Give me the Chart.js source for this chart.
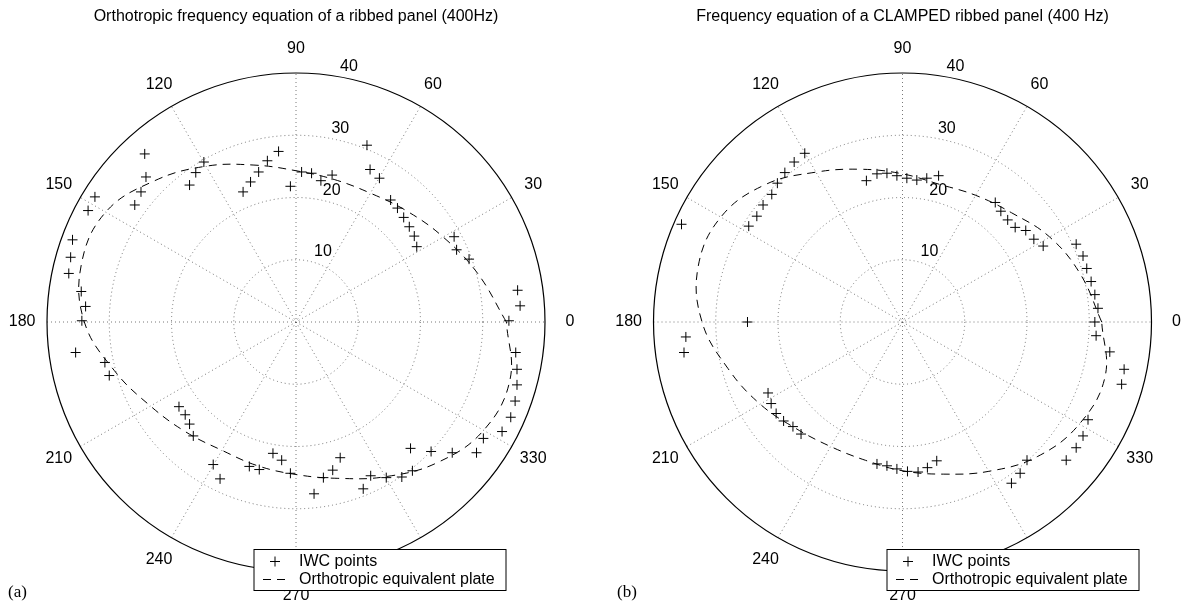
<!DOCTYPE html>
<html>
<head>
<meta charset="utf-8">
<script src="https://cdn.jsdelivr.net/npm/chart.js@4.4.1/dist/chart.umd.min.js"></script>
<style>
  html, body { margin: 0; padding: 0; background: #fff; }
  #wrap { position: relative; width: 1184px; height: 607px; }
  .panel { position: absolute; top: 0; width: 592px; height: 607px; }
</style>
</head>
<body>
<div id="wrap">
  <div class="panel" style="left:0"><canvas id="chartA" width="592" height="607"></canvas></div>
  <div class="panel" style="left:592px"><canvas id="chartB" width="592" height="607"></canvas></div>
</div>
<script>
// polar grid ticks
const angleTicks = [0, 30, 60, 90, 120, 150, 180, 210, 240, 270, 300, 330];
const ringTicks = [10, 20, 30, 40];
const rMax = 40;

// (a) IWC points, horizontal / vertical components (same units as the rings)
const iwcXA = [-24.3, -24.1, -24.9, -25.9, -32.3, -33.4, -35.9, -36.2, -36.5, -34.5, -33.8, -34.4,
  -14.8, -16.1, -17.1, -2.8, -4.6, -6.0, -7.3, -8.5, -0.9, 0.9, 2.5, 4.0, 5.8,
  11.4, 11.9, 13.4, 15.2, 16.3, 17.3, 18.2, 19.0, 19.4, 25.4, 25.8, 27.8, 35.6, 36.0, 34.2,
  -35.4, -30.7, -30.0, -18.8, -17.8, -17.1, -16.5, -13.3, -12.2, -3.7, -2.3, -7.5, -5.9, -0.9,
  35.3, 35.5, 35.5, 35.2, 34.5, 33.1, 30.1, 29.0, 25.1, 21.7, 18.4, 7.1, 5.9, 4.4, 2.9,
  12.0, 14.5, 17.0, 18.7, 10.8];
const iwcYA = [27.0, 23.3, 20.9, 18.8, 20.1, 17.9, 13.2, 10.4, 7.8, 4.9, 2.5, 0.2,
  25.7, 24.0, 22.0, 27.4, 25.9, 24.1, 22.5, 20.9, 21.8, 24.1, 23.9, 22.7, 23.6,
  28.4, 24.5, 23.1, 19.6, 18.3, 16.8, 15.3, 13.8, 12.1, 13.7, 11.6, 10.1, 5.1, 2.6, 0.2,
  -4.9, -6.5, -8.6, -13.6, -14.9, -16.4, -18.3, -22.9, -25.2, -21.1, -22.2, -23.2, -23.7, -24.3,
  -4.9, -7.6, -10.1, -12.7, -15.3, -17.6, -18.7, -21.0, -21.0, -20.8, -20.3, -21.8, -23.8, -25.0, -27.6,
  -24.7, -25.0, -24.9, -23.9, -26.8];

// (b) IWC points
const iwcXB = [-15.7, -17.4, -18.9, -20.1, -21.0, -22.4, -23.4, -24.7, -35.5,
  -5.8, -4.1, -2.5, -0.9, 0.7, 2.3, 3.9, 5.8,
  14.9, 15.8, 16.9, 18.1, 19.8, 21.1, 22.6, 27.9, 29.0, 29.6, 30.3, 30.9, 31.4, 30.9,
  -24.9, -34.8, -35.1, 31.1, 33.3, 35.6, 35.2, 29.8, 29.0, 27.9, 26.3, 20.0, 18.9, 17.5,
  -21.6, -21.1, -20.3, -19.1, -17.6, -16.3, -4.1, -2.5, -0.9, 0.8, 2.5, 4.0, 5.5];
const iwcYB = [27.1, 25.7, 24.0, 22.3, 20.5, 18.8, 17.0, 15.4, 15.7,
  22.7, 23.8, 23.9, 23.5, 23.1, 22.8, 23.1, 23.5,
  19.2, 17.8, 16.4, 15.2, 14.7, 13.3, 12.2, 12.5, 10.6, 8.6, 6.5, 4.4, 2.2, 0.0,
  0.0, -2.4, -4.9, -2.2, -4.8, -7.6, -10.0, -15.7, -18.3, -20.2, -22.2, -22.2, -24.3, -25.9,
  -11.4, -13.1, -14.7, -15.9, -16.8, -18.0, -22.8, -23.1, -23.6, -24.0, -24.1, -23.4, -22.3];

// orthotropic equivalent plate: radius read every 15 degrees
const curveAngles = [0, 15, 30, 45, 60, 75, 90, 105, 120, 135, 150, 165,
  180, 195, 210, 225, 240, 255, 270, 285, 300, 315, 330, 345];
const curveRhoA = [33.8, 30.2, 27.3, 25.2, 23.9, 23.7, 24.3, 26.1, 28.9, 32.1, 35.3, 35.7,
  34.0, 30.2, 27.0, 25.0, 23.8, 23.9, 24.5, 26.0, 28.7, 32.0, 34.8, 35.6];
const curveRhoB = [32.0, 29.6, 27.3, 24.8, 23.5, 22.9, 23.8, 25.4, 27.8, 31.2, 33.7, 34.0,
  32.2, 29.0, 26.4, 24.2, 23.1, 23.0, 23.9, 25.3, 27.7, 30.6, 32.8, 33.7];

const legendLabels = ['IWC points', 'Orthotropic equivalent plate'];
const FONT = '"Liberation Sans", Arial, Helvetica, sans-serif';

function toPoints(xs, ys) {
  return xs.map((x, i) => ({ x: x, y: ys[i] }));
}

function polarCurve(angles, rhos) {
  const pts = angles.map((a, i) => {
    const t = a * Math.PI / 180;
    return { x: rhos[i] * Math.cos(t), y: rhos[i] * Math.sin(t) };
  });
  pts.push(pts[0]);
  return pts;
}

function polarPlugin(title, letter, letterX, legendX) {
  return {
    id: 'polarGrid',
    beforeDatasetsDraw(chart) {
      const ctx = chart.ctx;
      const sx = chart.scales.x, sy = chart.scales.y;
      const cx = sx.getPixelForValue(0), cy = sy.getPixelForValue(0);
      const unit = sx.getPixelForValue(1) - cx;
      const R = rMax * unit;
      ctx.save();
      // dotted rings and spokes
      ctx.strokeStyle = '#555';
      ctx.lineWidth = 0.8;
      ctx.setLineDash([1, 3]);
      ringTicks.filter(r => r < rMax).forEach(r => {
        ctx.beginPath();
        ctx.arc(cx, cy, r * unit, 0, 2 * Math.PI);
        ctx.stroke();
      });
      angleTicks.filter(a => a < 180).forEach(a => {
        const t = a * Math.PI / 180;
        ctx.beginPath();
        ctx.moveTo(cx - R * Math.cos(t), cy + R * Math.sin(t));
        ctx.lineTo(cx + R * Math.cos(t), cy - R * Math.sin(t));
        ctx.stroke();
      });
      // outer circle
      ctx.setLineDash([]);
      ctx.strokeStyle = '#000';
      ctx.lineWidth = 1.2;
      ctx.beginPath();
      ctx.arc(cx, cy, R, 0, 2 * Math.PI);
      ctx.stroke();
      // angle labels
      ctx.fillStyle = '#000';
      ctx.font = '16px ' + FONT;
      ctx.textAlign = 'center';
      ctx.textBaseline = 'middle';
      angleTicks.forEach(a => {
        const t = a * Math.PI / 180;
        const rr = R * 1.1;
        ctx.fillText(String(a), cx + rr * Math.cos(t), cy - rr * Math.sin(t));
      });
      // ring labels
      ctx.textAlign = 'left';
      ctx.textBaseline = 'alphabetic';
      const t82 = 82 * Math.PI / 180;
      ringTicks.forEach(r => {
        const rr = (r + 0.5) * unit;
        ctx.fillText(String(r), cx + rr * Math.cos(t82) + 9, cy - rr * Math.sin(t82) - 1);
      });
      ctx.restore();
    },
    afterDraw(chart) {
      const ctx = chart.ctx;
      const cx = chart.scales.x.getPixelForValue(0);
      ctx.save();
      // title
      ctx.fillStyle = '#000';
      ctx.font = '16px ' + FONT;
      ctx.textAlign = 'center';
      ctx.textBaseline = 'middle';
      ctx.fillText(title, cx, 17);
      // legend box
      const bx = legendX, by = 549.5, bw = 252, bh = 41;
      ctx.fillStyle = '#fff';
      ctx.fillRect(bx, by, bw, bh);
      ctx.strokeStyle = '#000';
      ctx.lineWidth = 1;
      ctx.strokeRect(bx, by, bw, bh);
      // marker sample
      ctx.beginPath();
      ctx.moveTo(bx + 16, by + 12); ctx.lineTo(bx + 26, by + 12);
      ctx.moveTo(bx + 21, by + 7); ctx.lineTo(bx + 21, by + 17);
      ctx.stroke();
      // dashed sample
      ctx.setLineDash([8, 6]);
      ctx.beginPath();
      ctx.moveTo(bx + 9, by + 30); ctx.lineTo(bx + 35, by + 30);
      ctx.stroke();
      ctx.setLineDash([]);
      ctx.fillStyle = '#000';
      ctx.textAlign = 'left';
      ctx.fillText(legendLabels[0], bx + 45, by + 12.5);
      ctx.fillText(legendLabels[1], bx + 45, by + 30.5);
      // panel letter
      ctx.font = '17px "Liberation Serif", "Times New Roman", serif';
      ctx.fillText(letter, letterX, 593);
      ctx.restore();
    }
  };
}

function makeChart(id, xs, ys, rhos, pad, plugin) {
  return new Chart(document.getElementById(id), {
    type: 'scatter',
    data: {
      datasets: [
        {
          label: legendLabels[0],
          data: toPoints(xs, ys),
          pointStyle: 'cross',
          pointRadius: 5,
          pointBorderWidth: 1,
          borderColor: '#000',
          backgroundColor: '#000',
          showLine: false
        },
        {
          label: legendLabels[1],
          data: polarCurve(curveAngles, rhos),
          showLine: true,
          pointRadius: 0,
          borderColor: '#000',
          borderWidth: 1,
          borderDash: [8, 6],
          tension: 0.4,
          fill: false
        }
      ]
    },
    options: {
      responsive: false,
      animation: false,
      events: [],
      layout: { padding: pad },
      scales: {
        x: { type: 'linear', min: -rMax, max: rMax, display: false },
        y: { type: 'linear', min: -rMax, max: rMax, display: false }
      },
      plugins: {
        legend: { display: false },
        tooltip: { enabled: false }
      }
    },
    plugins: [plugin]
  });
}

makeChart('chartA', iwcXA, iwcYA, curveRhoA,
  { left: 47, right: 47, top: 73, bottom: 36 },
  polarPlugin('Orthotropic frequency equation of a ribbed panel (400Hz)', '(a)', 8, 254));

makeChart('chartB', iwcXB, iwcYB, curveRhoB,
  { left: 61.5, right: 32.5, top: 73, bottom: 36 },
  polarPlugin('Frequency equation of a CLAMPED ribbed panel (400 Hz)', '(b)', 25, 295));
</script>
</body>
</html>
